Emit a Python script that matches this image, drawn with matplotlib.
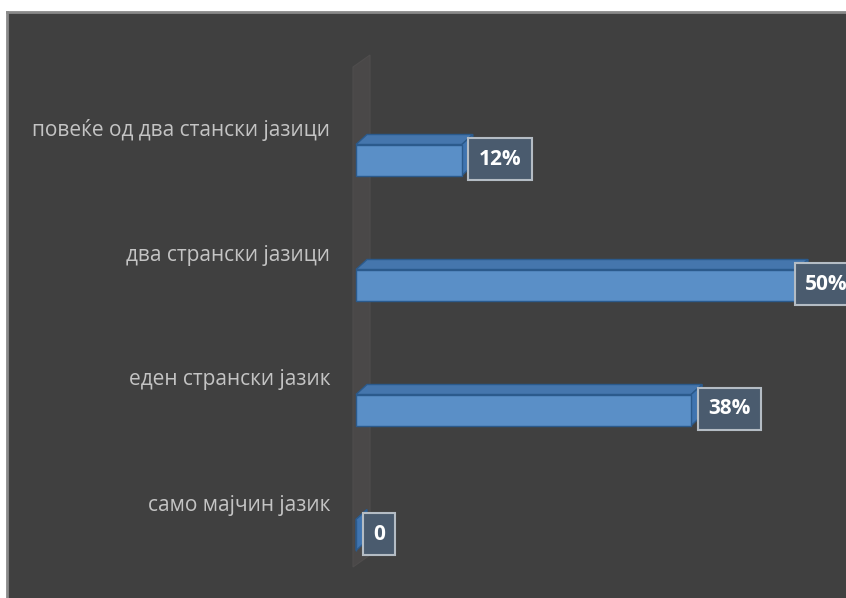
import matplotlib.pyplot as plt
from matplotlib.patches import Polygon, Rectangle

# answers, bottom to top
categories = ['само мајчин јазик', 'еден странски јазик',
              'два странски јазици', 'повеќе од два стански јазици']
values = [0, 38, 50, 12]
value_labels = ['0', '38%', '50%', '12%']

plt.rcParams['font.family'] = ['Open Sans', 'DejaVu Sans']

W, H = 846, 598
fig = plt.figure(figsize=(W / 100, H / 100), dpi=100)
fig.patch.set_facecolor('white')
ax = fig.add_axes([7 / W, 0, (W - 7) / W, (H - 12) / H])
ax.set_facecolor('#404040')

# 8.82 px per percent, 125 px per category
px_x = 8.82
px_y = 125.0
ax.set_xlim(-(356 - 7) / px_x, (W - 356) / px_x)
ax.set_ylim((535 - 598) / px_y, (535 - 12) / px_y)
ax.set_xticks([])
ax.set_yticks([])
for side in ['right', 'bottom']:
    ax.spines[side].set_visible(False)
for side in ['left', 'top']:
    ax.spines[side].set_color('#8a8a8a')
    ax.spines[side].set_linewidth(2)

# back wall of the 3d chart
wx0, wx1 = -3 / px_x, 14 / px_x
wall = Polygon([(wx0, -0.256), (wx0, 3.744), (wx1, 3.84), (wx1, -0.16)],
               closed=True, facecolor='#4a4848', edgecolor='#4f4d4d', lw=0.8, zorder=1)
ax.add_patch(wall)

h = 31 / px_y
dx = 11 / px_x
dy = 10 / px_y
edge = '#2b5a8c'
for i, v in enumerate(values):
    y0, y1 = i - h / 2, i + h / 2
    top = Polygon([(0, y1), (v, y1), (v + dx, y1 + dy), (dx, y1 + dy)],
                  closed=True, facecolor='#4576ad', edgecolor=edge, lw=1, zorder=3)
    side = Polygon([(v, y0), (v + dx, y0 + dy), (v + dx, y1 + dy), (v, y1)],
                   closed=True, facecolor='#3f74b0', edgecolor=edge, lw=1, zorder=3)
    front = Rectangle((0, y0), v, h, facecolor='#5a8fc7', edgecolor=edge, lw=1, zorder=4)
    ax.add_patch(top)
    ax.add_patch(side)
    ax.add_patch(front)

    # category label above and left of the bar
    ax.text(-26 / px_x, i + 30 / px_y, categories[i], ha='right', va='center',
            fontsize=15, color='#c4c4c4', zorder=5)

    # value label box; near the right edge it slides back onto the bar end
    off = 17 if v < 45 else 8
    ax.annotate(value_labels[i], xy=(v, i), xytext=(off, 1), textcoords='offset pixels',
                ha='left', va='center', fontsize=15, fontweight='bold', color='white',
                zorder=6,
                bbox=dict(boxstyle='square,pad=0.5', facecolor='#4a5b6e',
                          edgecolor='#b4bcc4', lw=1.5))

fig.savefig('out.png', dpi=100)
